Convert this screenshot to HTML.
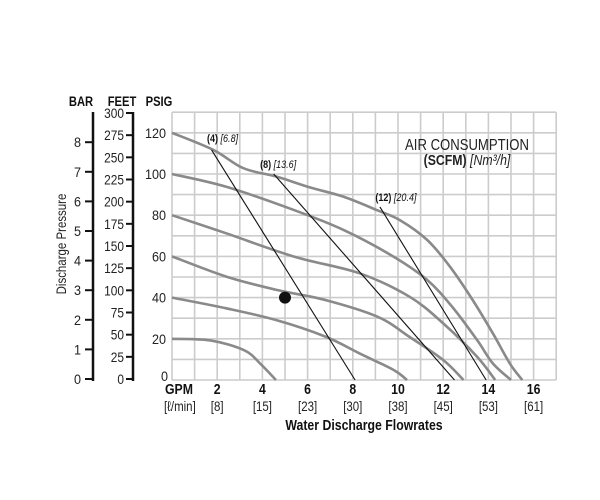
<!DOCTYPE html>
<html><head><meta charset="utf-8">
<style>
html,body{margin:0;padding:0;background:#fff;}
svg{display:block;font-family:"Liberation Sans Narrow","Liberation Sans",sans-serif;}
</style></head>
<body>
<svg id="chart" width="600" height="500" viewBox="0 0 600 500"></svg>
<script>
// ---- data ----
const xTicks = [2,4,6,8,10,12,14,16];
const xTickLpm = ["[8]","[15]","[23]","[30]","[38]","[45]","[53]","[61]"];
const psiTicks = [0,20,40,60,80,100,120];
const feetTicks = [0,25,50,75,100,125,150,175,200,225,250,275,300];
const barTicks = [0,1,2,3,4,5,6,7,8];
const curve120 = [[0,120],[1.83,111.7],[3.16,102.8],[4.63,98.7],[6.1,93.5],[7.58,89],[9.06,82.5],[10.1,77.5],[11.3,67.9],[12.3,55],[13.3,38.9],[14.2,22.6],[14.95,8],[15.5,0]];
const curve100 = [[0,100],[2.4,93.8],[5.4,82.5],[7.6,72.8],[9.8,59.9],[11.3,48.5],[12.4,35.5],[13.5,19.4],[14.2,8],[15.0,0]];
const curve80 = [[0,80],[2.4,71.2],[5.4,59.9],[8.3,51.8],[10.5,40.5],[12.0,27.5],[13.5,11.3],[14.3,0]];
const curve60 = [[0,60],[2.4,50.2],[4.6,43.8],[6.8,38.8],[9.1,30.7],[10.5,21],[12.0,9.7],[12.9,0]];
const curve40 = [[0,40],[2.4,34.8],[4.6,29.1],[6.8,21],[8.3,12.9],[9.8,4.9],[10.4,0]];
const curve20 = [[0,20],[1.7,19.2],[3.2,14.4],[3.9,8],[4.6,0]];
const airLine4 = [[1.75,111.7],[8.1,0]];
const airLine8 = [[4.5,100],[12.5,0]];
const airLine12 = [[9.2,84],[13.9,0]];
const airLabels = [["(4)","[6.8]",1.55,115.5],["(8)","[13.6]",3.9,103],["(12)","[20.4]",9.0,87]];
const operatingPoint = [5,40];

// ---- axes ----
const X0=172, XS=22.6, Y0=380, YS=2.06;
const xs = v => X0 + v*XS;
const ys = v => Y0 - v*YS;
const yFeet = v => 379 - v*(266/300);
const yBar = v => 379 - v*29.6;
const SQ = 0.82;

const svg = document.getElementById('chart');
const NS='http://www.w3.org/2000/svg';
function mk(tag, attrs, parent){const e=document.createElementNS(NS,tag);for(const k in attrs)e.setAttribute(k,attrs[k]);(parent||svg).appendChild(e);return e;}
function txt(s, attrs, parent){const e=mk('text',attrs,parent);e.textContent=s;return e;}
function squeeze(e,f){const x=+e.getAttribute('x');e.setAttribute('transform','translate('+x+',0) scale('+(f||SQ)+',1) translate('+(-x)+',0)');}

// grid
const grid = mk('g',{stroke:'#cccccc','stroke-width':1.6});


for(let g=0; g<=17; g++){ mk('line',{x1:xs(g),x2:xs(g),y1:ys(130),y2:ys(0)},grid); }
for(let p=0; p<=130; p+=10){ mk('line',{x1:xs(0),x2:xs(17),y1:ys(p),y2:ys(p)},grid); }

// curves
const curves = [curve120,curve100,curve80,curve60,curve40,curve20];
const names = ['curve-120-psig','curve-100-psig','curve-80-psig','curve-60-psig','curve-40-psig','curve-20-psig'];
function smoothPath(pts){
  const P = pts.map(p=>[xs(p[0]),ys(p[1])]);
  let d='M'+P[0][0]+','+P[0][1];
  for(let i=0;i<P.length-1;i++){
    const p0=P[i-1]||P[i], p1=P[i], p2=P[i+1], p3=P[i+2]||P[i+1];
    const c1=[p1[0]+(p2[0]-p0[0])/6, p1[1]+(p2[1]-p0[1])/6];
    const c2=[p2[0]-(p3[0]-p1[0])/6, p2[1]-(p3[1]-p1[1])/6];
    d+=' C'+c1[0]+','+c1[1]+' '+c2[0]+','+c2[1]+' '+p2[0]+','+p2[1];
  }
  return d;
}
curves.forEach((c,i)=>{
  const p=mk('path',{d:smoothPath(c),fill:'none',stroke:'#8a8a8a','stroke-width':2.6});
  
  
});
// air lines
[[airLine4,'air-line-4-scfm'],[airLine8,'air-line-8-scfm'],[airLine12,'air-line-12-scfm']].forEach(([l,n])=>{
  const e=mk('line',{x1:xs(l[0][0]),y1:ys(l[0][1]),x2:xs(l[1][0]),y2:ys(l[1][1]),stroke:'#111','stroke-width':1.1});
  
  
});
airLabels.forEach(a=>{
  const t=mk('text',{x:xs(a[2]),y:ys(a[3]),'font-size':11,fill:'#111'});
  
  
  const b=mk('tspan',{'font-weight':'bold'},t); b.textContent=a[0]+' ';
  const it=mk('tspan',{'font-style':'italic'},t); it.textContent=a[1];
  squeeze(t);
});
// dot
const dot=mk('circle',{cx:xs(operatingPoint[0]),cy:ys(operatingPoint[1]),r:6,fill:'#111'});



// air consumption title
const t1=txt('AIR CONSUMPTION',{x:467,y:150,'font-size':16,'text-anchor':'middle',fill:'#222'});


squeeze(t1);
const t2=mk('text',{x:467,y:165,'font-size':15,'text-anchor':'middle',fill:'#222'});


const tb=mk('tspan',{'font-weight':'bold'},t2); tb.textContent='(SCFM) ';
const ti=mk('tspan',{'font-style':'italic'},t2); ti.textContent='[Nm³/h]';
squeeze(t2);

// PSIG ticks
psiTicks.forEach(v=>{
  const t=txt(String(v),{x:v===0?168:166,y:ys(v)+(v===0?1:5),'font-size':14,'text-anchor':'end',fill:'#222'});
  
  
  squeeze(t,0.9);
});
// feet axis
const fa=mk('line',{x1:133,x2:133,y1:112,y2:381,stroke:'#111','stroke-width':2.5});


feetTicks.forEach(v=>{
  mk('line',{x1:126,x2:133,y1:yFeet(v),y2:yFeet(v),stroke:'#111','stroke-width':2});
  const t=txt(String(v),{x:124,y:yFeet(v)+5,'font-size':14,'text-anchor':'end',fill:'#222'});
  
  
  squeeze(t,0.85);
});
// bar axis
const ba=mk('line',{x1:93,x2:93,y1:112,y2:381,stroke:'#111','stroke-width':2.5});


barTicks.forEach(v=>{
  mk('line',{x1:85,x2:93,y1:yBar(v),y2:yBar(v),stroke:'#111','stroke-width':2});
  const t=txt(String(v),{x:81,y:yBar(v)+5,'font-size':14,'text-anchor':'end',fill:'#222'});
  
  
  squeeze(t,0.9);
});
// headers
[['BAR',81,'bar-header'],['FEET',122,'feet-header'],['PSIG',159,'psig-header']].forEach(h=>{
  const t=txt(h[0],{x:h[1],y:106,'font-size':14,'font-weight':'bold','text-anchor':'middle',fill:'#111'});
  
  
  squeeze(t,0.8);
});
const yt=txt('Discharge Pressure',{x:0,y:0,'font-size':14,'text-anchor':'middle',fill:'#222',transform:'translate(66,244) rotate(-90) scale(0.82,1)'});



// x axis labels
const gpm=txt('GPM',{x:165,y:394,'font-size':15,'font-weight':'bold',fill:'#111'});


squeeze(gpm);
const lpm=txt('[ℓ/min]',{x:164,y:411,'font-size':14,fill:'#222'});


squeeze(lpm);
xTicks.forEach((v,i)=>{
  const t=txt(String(v),{x:xs(v),y:394,'font-size':15,'font-weight':'bold','text-anchor':'middle',fill:'#111'});
  
  
  squeeze(t);
  const t2=txt(xTickLpm[i],{x:xs(v),y:411,'font-size':14,'text-anchor':'middle',fill:'#222'});
  
  
  squeeze(t2);
});
const xt=txt('Water Discharge Flowrates',{x:364,y:430,'font-size':15,'font-weight':'bold','text-anchor':'middle',fill:'#111'});


squeeze(xt);
</script>
</body></html>
